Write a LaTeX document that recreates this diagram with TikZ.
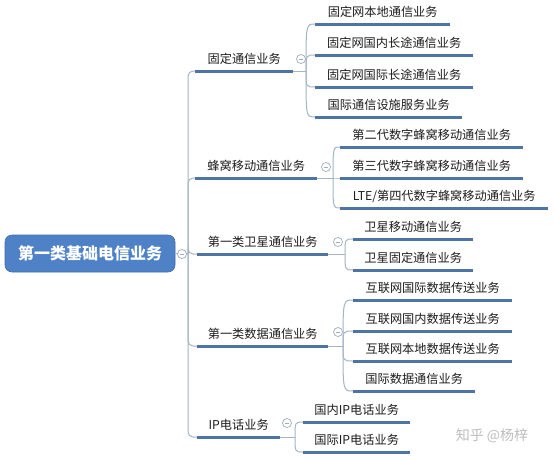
\documentclass[tikz,border=0pt]{standalone}
\usepackage{fontspec}
\newfontfamily\cjk{Noto Sans CJK SC}
\definecolor{barc}{RGB}{78,116,163}
\definecolor{connc}{RGB}{165,180,198}
\definecolor{rootc}{RGB}{79,129,199}
\definecolor{rootb}{RGB}{66,110,172}
\definecolor{textc}{RGB}{30,30,30}
\definecolor{togc}{RGB}{160,172,186}
\definecolor{wmc}{RGB}{190,190,190}
\begin{document}
\begin{tikzpicture}[x=1pt,y=-1pt,
  item/.style={anchor=south west, minimum height=23pt, inner sep=0pt, text=textc,
    font=\cjk\fontsize{12.2}{14}\selectfont},
  bar/.style={draw=barc, line width=3pt},
  conn/.style={draw=connc, line width=1pt},
  toggle/.style={circle, draw=togc, line width=0.7pt, fill=white, minimum size=9pt, inner sep=0pt,
    path picture={\draw[togc, line width=0.7pt] ([xshift=-2.2pt]path picture bounding box.center) -- ([xshift=2.2pt]path picture bounding box.center);}},
  rootbox/.style={rounded corners=7pt, fill=rootc, draw=rootb, line width=0.6pt, minimum width=170pt,
    minimum height=37pt, text=white, font=\cjk\bfseries\fontsize{16}{18}\selectfont}
]
\useasboundingbox (0,0) rectangle (554,459);
\fill[white] (0,0) rectangle (554,459);

% root
\node[rootbox] (root) at (90,253.5) {第一类基础电信业务};
\coordinate (tr) at (188,254);

% level 1
\node[item, minimum width=98pt]  (f)  at (195,71)  {固定通信业务};
\node[item, minimum width=122pt] (c)  at (195,178) {蜂窝移动通信业务};
\node[item, minimum width=131pt] (s)  at (197,254) {第一类卫星通信业务};
\node[item, minimum width=131pt] (d)  at (197,346) {第一类数据通信业务};
\node[item, minimum width=83pt]  (ip) at (197,437) {IP电话业务};

% level 2
\node[item, minimum width=135pt] (f1) at (315,24)  {固定网本地通信业务};
\node[item, minimum width=158pt] (f2) at (315,55)  {固定网国内长途通信业务};
\node[item, minimum width=158pt] (f3) at (315,87)  {固定网国际长途通信业务};
\node[item, minimum width=147pt] (f4) at (315,117) {国际通信设施服务业务};

\node[item, minimum width=183pt] (c1) at (340,147) {第二代数字蜂窝移动通信业务};
\node[item, minimum width=183pt] (c2) at (340,178) {第三代数字蜂窝移动通信业务};
\node[item, minimum width=208pt] (c3) at (340,208) {LTE/第四代数字蜂窝移动通信业务};

\node[item, minimum width=120pt] (s1) at (353,239) {卫星移动通信业务};
\node[item, minimum width=120pt] (s2) at (353,270) {卫星固定通信业务};

\node[item, minimum width=159pt] (d1) at (353,300) {互联网国际数据传送业务};
\node[item, minimum width=159pt] (d2) at (353,331) {互联网国内数据传送业务};
\node[item, minimum width=159pt] (d3) at (353,361) {互联网本地数据传送业务};
\node[item, minimum width=122pt] (d4) at (353,391) {国际数据通信业务};

\node[item, minimum width=107pt] (ip1) at (303,422) {国内IP电话业务};
\node[item, minimum width=107pt] (ip2) at (303,452) {国际IP电话业务};

% junctions
\coordinate (jf)  at (306,71);
\coordinate (jc)  at (333,178);
\coordinate (js)  at (345,254);
\coordinate (jd)  at (343,346);
\coordinate (jip) at (295,437);

% connectors
\draw[conn] (root.east) -- (tr);
\foreach \n in {f,c,s,d,ip}
  \draw[conn, rounded corners=5pt] (tr) |- (\n.south west);

\draw[conn] (f.south east) -- (jf);
\foreach \n in {f1,f2,f3,f4}
  \draw[conn] (jf) .. controls (jf |- \n.south west) .. (\n.south west);
\draw[conn] (c.south east) -- (jc);
\foreach \n in {c1,c2,c3}
  \draw[conn] (jc) .. controls (jc |- \n.south west) .. (\n.south west);
\draw[conn] (s.south east) -- (js);
\foreach \n in {s1,s2}
  \draw[conn] (js) .. controls (js |- \n.south west) .. (\n.south west);
\draw[conn] (d.south east) -- (jd);
\foreach \n in {d1,d2,d3,d4}
  \draw[conn] (jd) .. controls (jd |- \n.south west) .. (\n.south west);
\draw[conn] (ip.south east) -- (jip);
\foreach \n in {ip1,ip2}
  \draw[conn] (jip) .. controls (jip |- \n.south west) .. (\n.south west);

% bars
\foreach \n in {f,c,s,d,ip,f1,f2,f3,f4,c1,c2,c3,s1,s2,d1,d2,d3,d4,ip1,ip2}
  \draw[bar] (\n.south west) -- (\n.south east);

% toggles
\node[toggle] (troot) at (182,254) {};
\node[toggle] (tf)  at (301,59)  {};
\node[toggle] (tc)  at (326,167) {};
\node[toggle] (ts)  at (338,242) {};
\node[toggle] (td)  at (338,332) {};
\node[toggle] (tip) at (287,423) {};

% watermark
\node[text=wmc, font=\cjk\fontsize{14}{16}\selectfont, inner sep=0pt] (wm) at (492,436) {知乎 @杨梓};
\end{tikzpicture}
\end{document}
